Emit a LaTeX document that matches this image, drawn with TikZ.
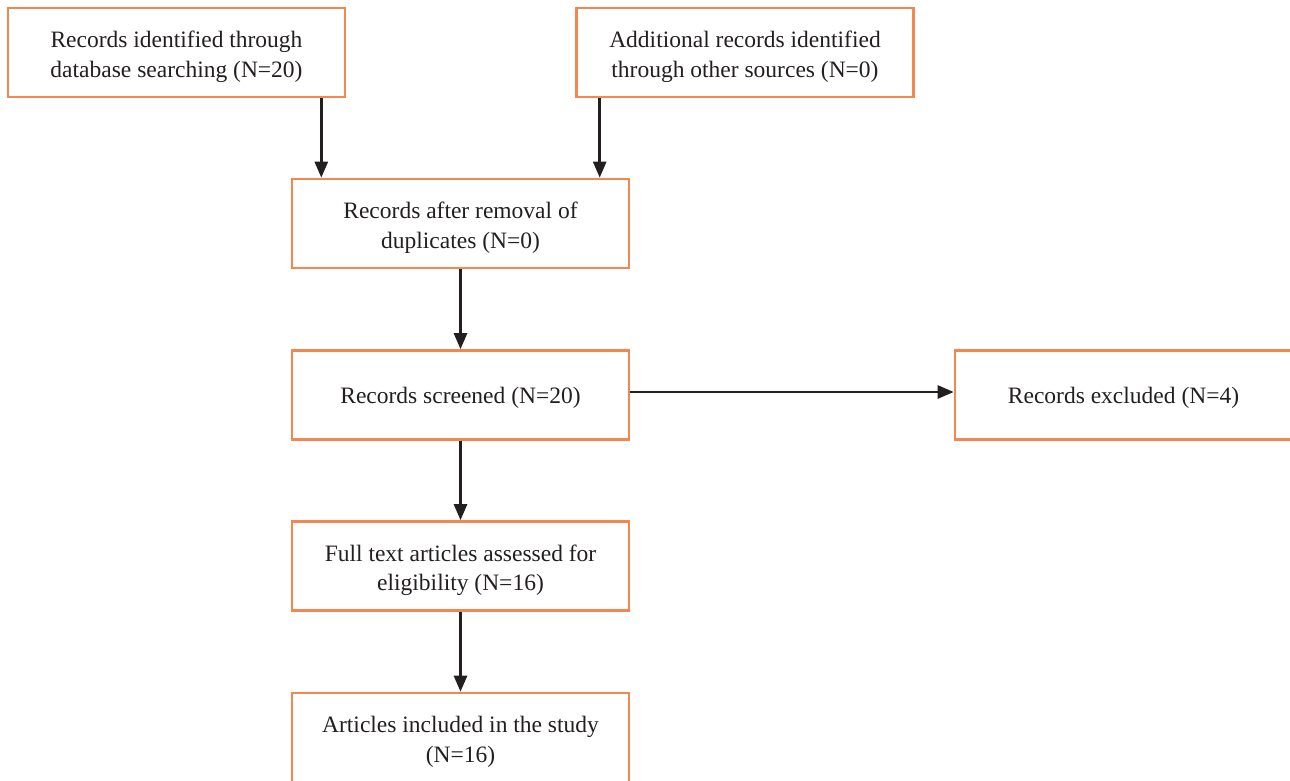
\documentclass[tikz,border=0pt]{standalone}
\usepackage{fontspec}
\setmainfont{Liberation Serif}
\usetikzlibrary{arrows.meta}
\definecolor{boxorange}{HTML}{F4874F}
\definecolor{arrowdark}{HTML}{231F20}
\begin{document}
\begin{tikzpicture}[x=1pt,y=-1pt,
  box/.style={draw=boxorange,line width=2.6pt,rectangle,minimum width=337pt,minimum height=89pt,
    align=center,font=\fontsize{23.5}{29.3}\selectfont,text=arrowdark,inner sep=0pt},
  oneline/.style={box,text height=22pt,text depth=5pt},
  twoline/.style={box,text height=54pt,text depth=5pt},
  arr/.style={draw=arrowdark,line width=2.6pt,-{Triangle[length=16pt,width=13pt]}}]
\useasboundingbox (0,0) rectangle (1290,780);
\clip (0,0) rectangle (1290,780);
\node[twoline] (b1) at (176.5,52.5) {Records identified through\\database searching (N=20)};
\node[twoline] (b2) at (745,52.5) {Additional records identified\\through other sources (N=0)};
\node[twoline] (b3) at (460.5,223.5) {Records after removal of\\duplicates (N=0)};
\node[oneline] (b4) at (460.5,395) {Records screened (N=20)};
\node[oneline] (b5) at (1123.5,395) {Records excluded (N=4)};
\node[twoline] (b6) at (460.5,566) {Full text articles assessed for\\eligibility (N=16)};
\node[twoline] (b7) at (460.5,737.5) {Articles included in the study\\(N=16)};
\draw[arr] ([xshift=-25pt]b1.south east) -- ([xshift=-25pt]b1.south east |- b3.north);
\draw[arr] ([xshift=24.5pt]b2.south west) -- ([xshift=24.5pt]b2.south west |- b3.north);
\draw[arr] (b3.south) -- (b4.north);
\draw[arr] ([yshift=3pt]b4.east) -- ([yshift=3pt]b4.east -| b5.west);
\draw[arr] (b4.south) -- (b6.north);
\draw[arr] (b6.south) -- (b7.north);
\end{tikzpicture}
\end{document}
